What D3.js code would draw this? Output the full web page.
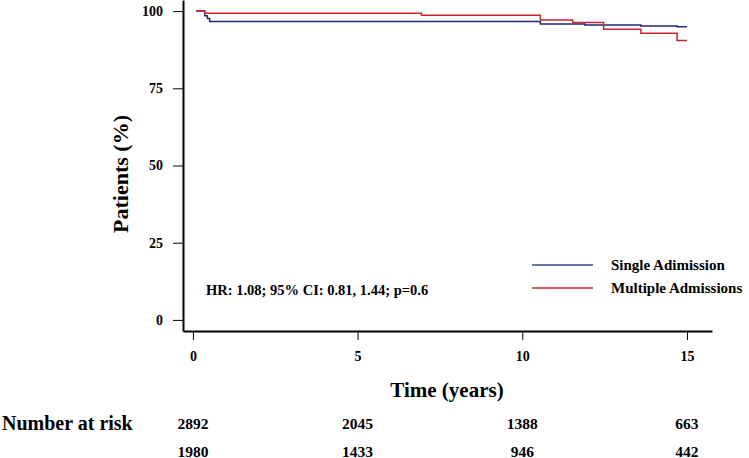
<!DOCTYPE html>
<html>
<head>
<meta charset="utf-8">
<script src="https://cdn.jsdelivr.net/npm/d3@7"></script>
<style>
html,body{margin:0;padding:0;background:#fff;}
svg{display:block;}
text{font-family:"Liberation Serif","Times New Roman",serif;font-weight:bold;fill:#000;}
</style>
</head>
<body>
<svg id="chart" width="749" height="458"></svg>
<script>
// ---- data ----
const seriesNames = ["Single Adimission", "Multiple Admissions"];
const singleTimes = [0.1, 0.36, 0.44, 0.51, 10.55, 11.9, 13.6, 14.7, 15.0];
const singleSurv  = [100, 98.5, 97.6, 96.6, 95.8, 95.5, 95.2, 94.9, 94.9];
const multiTimes  = [0.1, 0.36, 6.94, 10.55, 11.53, 12.47, 13.6, 14.7, 15.0];
const multiSurv   = [100, 99.3, 98.7, 97.1, 96.3, 94.1, 92.8, 90.5, 90.5];
const xTicks = [0, 5, 10, 15];
const yTicks = [0, 25, 50, 75, 100];
const riskTimes = [0, 5, 10, 15];
const riskSingle = [2892, 2045, 1388, 663];
const riskMulti  = [1980, 1433, 946, 442];
const hrText = "HR: 1.08; 95% CI: 0.81, 1.44; p=0.6";
const colors = ["#1f2870", "#c8262a"];
const legendColors = ["#3b4a8c", "#c8262a"];

const svg = d3.select("#chart");
const x = d3.scaleLinear().domain([-0.3, 15.76]).range([183, 712]);
const y = d3.scaleLinear().domain([-3.6, 103.6]).range([331, 0]);

// axes
const xAxis = svg.append("g").attr("transform", "translate(0,331)")
  .call(d3.axisBottom(x).tickValues(xTicks).tickSize(9).tickSizeOuter(0).tickPadding(11));
xAxis.select(".domain").attr("stroke", "#000").attr("stroke-width", 2);
xAxis.selectAll(".tick line").attr("stroke", "#000").attr("stroke-width", 1);
xAxis.selectAll(".tick text").style("font-size", "14px").style("font-family", '"Liberation Serif",serif').style("font-weight", "bold").attr("fill", "#000");

const yAxis = svg.append("g").attr("transform", "translate(183,0)")
  .call(d3.axisLeft(y).tickValues(yTicks).tickSize(10).tickSizeOuter(0).tickPadding(10));
yAxis.select(".domain").attr("stroke", "#000").attr("stroke-width", 2);
yAxis.selectAll(".tick line").attr("stroke", "#000").attr("stroke-width", 1);
yAxis.selectAll(".tick text").style("font-size", "14px").style("font-family", '"Liberation Serif",serif').style("font-weight", "bold").attr("fill", "#000");

// axis titles
svg.append("text").attr("transform", "translate(128,174) rotate(-90)")
  .attr("text-anchor", "middle").style("font-size", "22px").text("Patients (%)");
svg.append("text").attr("x", 447).attr("y", 396.5)
  .attr("text-anchor", "middle").style("font-size", "21px").text("Time (years)");

// curves
const line = d3.line().curve(d3.curveStepAfter).x(d => x(d[0])).y(d => y(d[1]));
const series = [
  d3.zip(singleTimes, singleSurv),
  d3.zip(multiTimes, multiSurv)
];
series.forEach((s, i) => {
  svg.append("path").datum(s).attr("d", line)
    .attr("fill", "none").attr("stroke", colors[i]).attr("stroke-width", 1.5);
});

// legend
const legY = [265, 288];
seriesNames.forEach((n, i) => {
  svg.append("line").attr("x1", 532).attr("x2", 593).attr("y1", legY[i]).attr("y2", legY[i])
    .attr("stroke", legendColors[i]).attr("stroke-width", 1.3);
  svg.append("text").attr("x", 611).attr("y", legY[i] + 4.5)
    .style("font-size", "15px").text(n);
});

// HR text
svg.append("text").attr("x", 206).attr("y", 295).style("font-size", "14.5px").text(hrText);

// number at risk
svg.append("text").attr("x", 2).attr("y", 430).style("font-size", "20px").text("Number at risk");
[riskSingle, riskMulti].forEach((row, r) => {
  svg.selectAll(null).data(row).enter().append("text")
    .attr("x", (d, i) => x(riskTimes[i]))
    .attr("y", r === 0 ? 428.5 : 456.5)
    .attr("text-anchor", "middle")
    .style("font-size", "15.5px")
    .text(d => d);
});
</script>
</body>
</html>
